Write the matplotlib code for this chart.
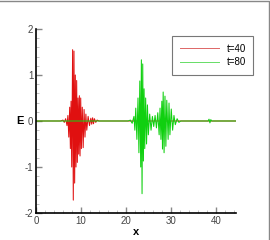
import numpy as np
import matplotlib.pyplot as plt
from matplotlib.lines import Line2D

plt.rcParams.update({'font.size': 7, 'font.family': 'Liberation Sans', 'axes.unicode_minus': False})

# E(x) for t=40 : oscillation extrema
x_t40 = [0.0, 5.5, 6.0, 6.3, 6.6, 6.9, 7.1, 7.3, 7.5, 7.65, 7.8, 7.95, 8.15, 8.3, 8.45, 8.6,
         8.75, 8.9, 9.05, 9.2, 9.35, 9.5, 9.65, 9.8, 9.95, 10.1, 10.3, 10.5, 10.7, 10.9,
         11.1, 11.3, 11.6, 11.9, 12.2, 12.4, 12.6, 12.8, 13.0, 13.3, 13.6, 14.0, 44.5]
E_t40 = [0.0, 0.0, 0.02, -0.03, 0.05, -0.1, 0.12, -0.35, 0.3, -0.6, 0.43, -1.0, 1.55, -1.72, 1.52, -1.35,
         1.0, -1.0, 0.88, -0.9, 0.5, -0.72, 0.55, -0.76, 0.5, -0.6, 0.3, -0.58, 0.25, -0.35,
         0.15, -0.2, 0.1, -0.1, 0.06, -0.07, 0.07, -0.06, 0.05, -0.03, 0.02, 0.0, 0.0]

# E(x) for t=80
x_t80 = [0.0, 20.5, 21.0, 21.4, 21.8, 22.0, 22.2, 22.45, 22.7, 22.9, 23.1, 23.3, 23.45, 23.6, 23.75,
         23.9, 24.05, 24.2, 24.4, 24.6, 24.8, 25.0, 25.3, 25.6, 25.9, 26.2, 26.5, 26.8, 27.1,
         27.4, 27.6, 27.8, 28.0, 28.15, 28.3, 28.5, 28.7, 28.9, 29.1, 29.4, 29.6, 29.8, 30.1,
         30.4, 30.7, 31.0, 31.4, 31.8, 32.2, 38.3, 38.5, 38.7, 38.9, 39.1, 44.5]
E_t80 = [0.0, 0.0, 0.02, -0.05, 0.1, -0.2, 0.28, -0.4, 0.5, -0.69, 0.87, -1.0, 1.33, -1.58, 1.24,
         -0.87, 0.7, -0.6, 0.5, -0.5, 0.35, -0.3, 0.15, -0.2, 0.1, -0.12, 0.12, -0.15, 0.18,
         -0.3, 0.28, -0.4, 0.43, -0.61, 0.63, -0.69, 0.54, -0.55, 0.45, -0.4, 0.39, -0.3, 0.26,
         -0.2, 0.12, -0.08, 0.05, -0.03, 0.0, 0.0, 0.04, -0.04, 0.03, 0.0, 0.0]

labels = ['t=40', 't=80']

fig = plt.figure(figsize=(2.7, 2.4), dpi=100)
ax = fig.add_axes([0.1333, 0.1125, 0.7407, 0.7667])

ax.plot(x_t40, E_t40, color='#e01010', lw=0.75)
ax.plot(x_t80, E_t80, color='#10d010', lw=0.75)

ax.set_xlim(0, 44.5)
ax.set_ylim(-2, 2)
ax.set_xticks([0, 10, 20, 30, 40])
ax.set_yticks([-2, -1, 0, 1, 2])
ax.set_xticks(np.arange(0, 44.5, 2), minor=True)
ax.set_yticks(np.arange(-2, 2.01, 0.2), minor=True)
ax.tick_params(direction='in', length=4, width=1, color='#888888', labelcolor='#444444', pad=2)
ax.tick_params(which='minor', direction='in', length=2, width=0.5, color='#aaaaaa')
for s in ['top', 'right']:
    ax.spines[s].set_visible(False)
for s in ['left', 'bottom']:
    ax.spines[s].set_linewidth(1.2)

ax.set_xlabel('x', fontweight='bold', fontsize=8, labelpad=1)
ax.set_ylabel('E', fontweight='bold', fontsize=8, labelpad=3, rotation=0, va='center')

handles = [Line2D([], [], color='#dd6666', lw=0.7), Line2D([], [], color='#66dd66', lw=0.7)]
leg = ax.legend(handles, labels, loc='upper left', bbox_to_anchor=(0.68, 0.962), borderaxespad=0,
                fancybox=False, edgecolor='#777777', framealpha=1, fontsize=7, handlelength=4.0,
                borderpad=0.8, labelspacing=0.35, handletextpad=0.8)
leg.get_frame().set_linewidth(0.8)

# outer frame (top and right)
fig.add_artist(Line2D([0, 0.995, 0.995], [0.997, 0.997, 0], color='#888888', lw=1))

fig.savefig('out.png', dpi=100)
